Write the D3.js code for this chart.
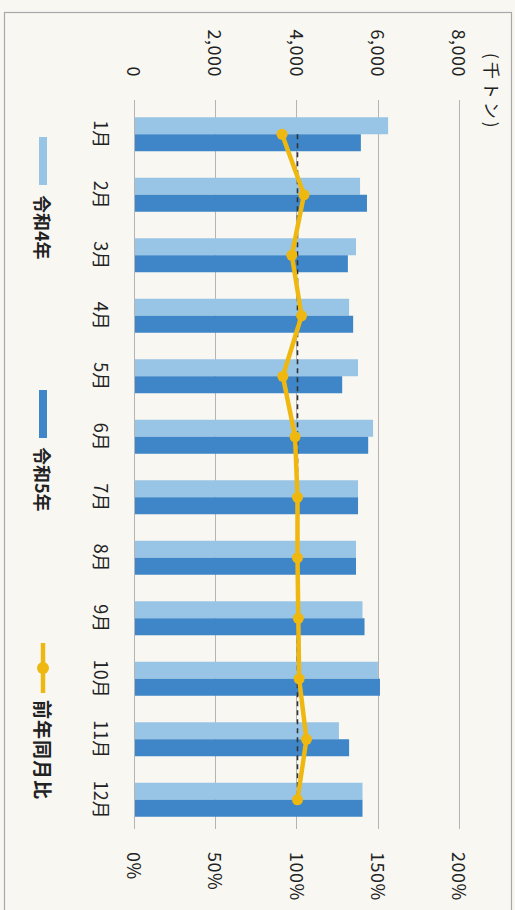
<!DOCTYPE html>
<html>
<head>
<meta charset="utf-8">
<script src="https://cdn.jsdelivr.net/npm/d3@7"></script>
<style>
  html, body { margin: 0; padding: 0; background: #f8f7f2; }
  svg { display: block; }
  text { font-family: "Noto Sans CJK JP", "Noto Sans", sans-serif; fill: #222; }
</style>
</head>
<body>
<svg id="chart" width="515" height="910"></svg>
<script>
// ---- data ----
const months = ["1月","2月","3月","4月","5月","6月","7月","8月","9月","10月","11月","12月"];
const seriesNames = ["令和4年","令和5年"];
const r4 = [6230, 5540, 5440, 5270, 5490, 5860, 5490, 5440, 5600, 5980, 5020, 5600];
const r5 = [5560, 5710, 5240, 5370, 5100, 5740, 5490, 5440, 5650, 6030, 5270, 5600];
const ratio = [90.5, 104, 96.5, 102.5, 91, 98.5, 100, 100, 100.5, 101, 105.5, 100];
const valueTicks = [0, 2000, 4000, 6000, 8000];
const pctTicks = [0, 50, 100, 150, 200];
const unitLabel = "(千トン)";
const lineName = "前年同月比";

const colors = { "令和4年": "#98c5e5", "令和5年": "#3e86c8" };
const lineColor = "#efb810";

const svg = d3.select("#chart");
// frame
svg.append("rect").attr("x", 4.5).attr("y", 12.5).attr("width", 507).attr("height", 920)
  .attr("fill", "#f8f7f2").attr("stroke", "#a8a8a8").attr("stroke-width", 1.2);

// chart drawn in original orientation, rotated 90deg clockwise
const g = svg.append("g").attr("transform", "translate(515,0) rotate(90)");

const x0 = d3.scaleBand().domain(months).range([104, 830]).padding(0);
const step = x0.bandwidth();
const x1 = d3.scaleBand().domain(seriesNames).range([step / 2 - 17, step / 2 + 17]).padding(0);
const y = d3.scaleLinear().domain([0, 8000]).range([380, 55]);
const yp = d3.scaleLinear().domain([0, 200]).range([380, 55]);

// gridlines
g.append("g").selectAll("line").data(valueTicks).join("line")
  .attr("x1", 100).attr("x2", 829)
  .attr("y1", d => Math.round(y(d)) + 0.5).attr("y2", d => Math.round(y(d)) + 0.5)
  .attr("stroke", "#b4b4b4").attr("stroke-width", 1);

// value axis labels (left in original)
g.append("g").selectAll("text").data(valueTicks).join("text")
  .attr("x", 77).attr("y", d => y(d))
  .attr("text-anchor", "end").attr("dominant-baseline", "central")
  .style("font-size", "18px").style("letter-spacing", "0.5px")
  .text(d => d3.format(",")(d));

// unit label
g.append("text").attr("x", 53).attr("y", 23)
  .attr("dominant-baseline", "central")
  .style("font-size", "17px").style("letter-spacing", "3px")
  .text(unitLabel);

// percent axis labels (right in original)
g.append("g").selectAll("text").data(pctTicks).join("text")
  .attr("x", 852).attr("y", d => yp(d))
  .attr("text-anchor", "start").attr("dominant-baseline", "central")
  .style("font-size", "18px").style("letter-spacing", "0.5px")
  .text(d => d + "%");

// month labels
g.append("g").selectAll("text").data(months).join("text")
  .attr("x", d => x0(d) + step / 2).attr("y", 413)
  .attr("text-anchor", "middle").attr("dominant-baseline", "central")
  .style("font-size", "18px")
  .text(d => d);

// bars
const barData = months.flatMap((m, i) => [
  { m, s: "令和4年", v: r4[i] },
  { m, s: "令和5年", v: r5[i] }
]);
g.append("g").selectAll("rect").data(barData).join("rect")
  .attr("x", d => x0(d.m) + x1(d.s))
  .attr("width", x1.bandwidth())
  .attr("y", d => y(d.v))
  .attr("height", d => y(0) - y(d.v))
  .attr("fill", d => colors[d.s]);

// 100% dashed reference
g.append("line")
  .attr("x1", x0(months[0]) + step / 2).attr("x2", x0(months[11]) + step / 2)
  .attr("y1", yp(100)).attr("y2", yp(100))
  .attr("stroke", "#333").attr("stroke-width", 1.6).attr("stroke-dasharray", "5,4");

// ratio line
const line = d3.line().x((d, i) => x0(months[i]) + step / 2).y(d => yp(d));
g.append("path").datum(ratio).attr("d", line)
  .attr("fill", "none").attr("stroke", lineColor).attr("stroke-width", 4.5)
  .attr("stroke-linejoin", "round");
g.append("g").selectAll("circle").data(ratio).join("circle")
  .attr("cx", (d, i) => x0(months[i]) + step / 2).attr("cy", d => yp(d))
  .attr("r", 5.5).attr("fill", lineColor);

// legend
const lv = 472;
const leg = g.append("g");
leg.append("rect").attr("x", 137).attr("y", lv - 4).attr("width", 48).attr("height", 8).attr("fill", colors["令和4年"]);
leg.append("text").attr("x", 195).attr("y", lv).attr("dominant-baseline", "central")
  .style("font-size", "18px").style("font-weight", "bold").text(seriesNames[0]);
leg.append("rect").attr("x", 390).attr("y", lv - 4).attr("width", 48).attr("height", 8).attr("fill", colors["令和5年"]);
leg.append("text").attr("x", 447).attr("y", lv).attr("dominant-baseline", "central")
  .style("font-size", "18px").style("font-weight", "bold").text(seriesNames[1]);
leg.append("line").attr("x1", 643).attr("x2", 693).attr("y1", lv).attr("y2", lv)
  .attr("stroke", lineColor).attr("stroke-width", 4.5);
leg.append("circle").attr("cx", 668).attr("cy", lv).attr("r", 6).attr("fill", lineColor);
leg.append("text").attr("x", 700).attr("y", lv).attr("dominant-baseline", "central")
  .style("font-size", "19px").style("font-weight", "bold").style("letter-spacing", "1px").text(lineName);
</script>
</body>
</html>
